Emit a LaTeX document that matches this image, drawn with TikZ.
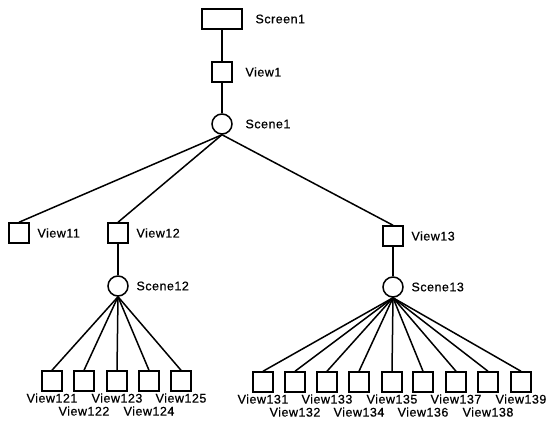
\documentclass[tikz,border=0pt]{standalone}
\usepackage{fontspec}
\setmainfont{Liberation Sans}[LetterSpace=4, FakeBold=0.6]
\begin{document}
\begin{tikzpicture}[x=1pt, y=-1pt, line width=1.5pt,
	box/.style = {draw, rectangle, minimum size=20pt, inner sep=0pt},
	wide/.style = {draw, rectangle, minimum width=40pt, minimum height=20pt, inner sep=0pt},
	scn/.style = {draw, circle, minimum size=20pt, inner sep=0pt},
	every label/.style = {font=\fontsize{12.5}{14}\selectfont, inner sep=0pt},
	far/.style = {label distance=12pt},
	near/.style = {label distance=7pt},
	up/.style = {label={[label distance=1pt]below:#1}},
	down/.style = {label={[label distance=14pt]below:#1}}]
	\useasboundingbox (0,0) rectangle (557,428);
	
	\node[wide] (sc1) at (222,19) [label={[far]east:Screen1}] {};
	\node[box] (v1) at (222,72) [label={[far]east:View1}] {};
	\node[scn] (s1) at (222,124) [label={[far]east:Scene1}] {};
	
	\node[box] (v11) at (19,233) [label={[near]east:View11}] {};
	\node[box] (v12) at (118,233) [label={[near]east:View12}] {};
	\node[box] (v13) at (393,236) [label={[near]east:View13}] {};
	
	\node[scn] (s12) at (118,286) [label={[near]east:Scene12}] {};
	\node[scn] (s13) at (393,287) [label={[near]east:Scene13}] {};
	
	\node[box, up=View121] (v121) at (52,381) {};
	\node[box, down=View122] (v122) at (84,381) {};
	\node[box, up=View123] (v123) at (117,381) {};
	\node[box, down=View124] (v124) at (149,381) {};
	\node[box, up=View125] (v125) at (181,381) {};
	
	\node[box, up=View131] (v131) at (263,382) {};
	\node[box, down=View132] (v132) at (295,382) {};
	\node[box, up=View133] (v133) at (327,382) {};
	\node[box, down=View134] (v134) at (359,382) {};
	\node[box, up=View135] (v135) at (392,382) {};
	\node[box, down=View136] (v136) at (423,382) {};
	\node[box, up=View137] (v137) at (456,382) {};
	\node[box, down=View138] (v138) at (488,382) {};
	\node[box, up=View139] (v139) at (521,382) {};
	
	\draw (sc1) -- (v1);
	\draw (v1) -- (s1);
	\draw (s1.south) -- (v11.north);
	\draw (s1.south) -- (v12.north);
	\draw (s1.south) -- (v13.north);
	\draw (v12) -- (s12);
	\draw (v13) -- (s13);
	
	\draw (s12.south) -- (v121.north);
	\draw (s12.south) -- (v122.north);
	\draw (s12.south) -- (v123.north);
	\draw (s12.south) -- (v124.north);
	\draw (s12.south) -- (v125.north);
	
	\draw (s13.south) -- (v131.north);
	\draw (s13.south) -- (v132.north);
	\draw (s13.south) -- (v133.north);
	\draw (s13.south) -- (v134.north);
	\draw (s13.south) -- (v135.north);
	\draw (s13.south) -- (v136.north);
	\draw (s13.south) -- (v137.north);
	\draw (s13.south) -- (v138.north);
	\draw (s13.south) -- (v139.north);
	
\end{tikzpicture}
\end{document}
